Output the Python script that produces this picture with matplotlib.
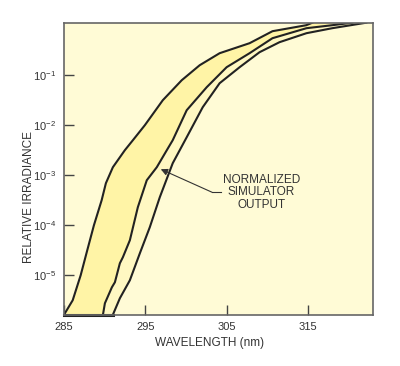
import numpy as np
import matplotlib
matplotlib.use("Agg")
import matplotlib.pyplot as plt

plt.rcParams["font.family"] = ["Liberation Sans", "DejaVu Sans"]
plt.rcParams["mathtext.fontset"] = "custom"
plt.rcParams["mathtext.rm"] = "Liberation Sans"
plt.rcParams["mathtext.it"] = "Liberation Sans"

# wavelength (nm) / log10 relative irradiance
left_wl = [285.0, 286.07, 287.05, 287.86, 288.68, 289.63, 290.15, 291.01, 292.48,
           293.47, 294.94, 297.15, 299.48, 301.69, 304.14, 307.82, 310.64, 314.8,
           315.55]
left_log = [-5.79, -5.5, -5.0, -4.5, -4.0, -3.5, -3.16, -2.84, -2.5,
            -2.3, -2.0, -1.5, -1.1, -0.8, -0.56, -0.36, -0.12, 0.0,
            0.05]

mid_wl = [289.79, 290.03, 290.89, 291.26, 291.87, 292.24, 293.10, 294.08, 295.18,
          296.41, 297.64, 298.37, 300.09, 302.55, 305.0, 307.82, 310.64, 314.82,
          318.0, 320.46]
mid_log = [-5.79, -5.56, -5.24, -5.14, -4.76, -4.64, -4.3, -3.64, -3.1,
           -2.84, -2.5, -2.3, -1.7, -1.24, -0.84, -0.56, -0.26, -0.06,
           0.0, 0.05]

right_wl = [291.01, 291.87, 293.10, 294.33, 295.55, 296.78, 298.37, 299.23, 300.09,
            302.06, 304.14, 306.6, 309.05, 311.5, 314.82, 318.0, 322.18]
right_log = [-5.79, -5.46, -5.1, -4.56, -4.04, -3.44, -2.76, -2.5, -2.24,
             -1.64, -1.16, -0.84, -0.54, -0.34, -0.16, -0.06, 0.05]

x_ticks = [285, 295, 305, 315]
y_ticks = [-5, -4, -3, -2, -1]

BG = "#fffbd6"
BAND_DARK = "#fff4a6"
BAND_LIGHT = "#fff8c2"
LINE = "#222222"

left_y = 10.0 ** np.array(left_log)
mid_y = 10.0 ** np.array(mid_log)
right_y = 10.0 ** np.array(right_log)

fig = plt.figure(figsize=(4.0, 3.66), dpi=100)
ax = fig.add_axes([0.16, 0.14, 0.7725, 0.798])
ax.set_facecolor(BG)
ax.set_yscale("log")
ax.set_xlim(285, 323)
ax.set_ylim(10 ** -5.79, 10 ** 0.05)

ax.fill(np.concatenate([left_wl, mid_wl[::-1]]),
        np.concatenate([left_y, mid_y[::-1]]), color=BAND_DARK, lw=0)
ax.fill(np.concatenate([mid_wl, right_wl[::-1]]),
        np.concatenate([mid_y, right_y[::-1]]), color=BAND_LIGHT, lw=0)
for wl, y in [(left_wl, left_y), (mid_wl, mid_y), (right_wl, right_y)]:
    ax.plot(wl, y, color=LINE, lw=1.5, solid_joinstyle="round")
ax.plot([left_wl[0], right_wl[0]], [left_y[0], right_y[0]], color=LINE, lw=2.2,
        clip_on=False)

ax.annotate("", xy=(296.9, 10 ** -2.88), xytext=(303.2, 10 ** -3.34),
            arrowprops=dict(arrowstyle="-|>", color="#333333", lw=0.8,
                            mutation_scale=10, shrinkA=0, shrinkB=0))
ax.plot([303.2, 304.3], [10 ** -3.34, 10 ** -3.34], color="#333333", lw=0.8)
ax.text(309.3, 10 ** -3.34, "NORMALIZED\nSIMULATOR\nOUTPUT", ha="center", va="center",
        fontsize=8.5, color="#333333", linespacing=1.05)

ax.set_xticks(x_ticks)
ax.set_xticklabels([str(t) for t in x_ticks])
ax.set_yticks([10.0 ** p for p in y_ticks])
ax.set_yticklabels([r"$10^{%d}$" % p for p in y_ticks])
ax.minorticks_off()
ax.tick_params(direction="in", length=7, width=1, color="#444444",
               labelsize=8, labelcolor="#333333")
ax.tick_params(axis="y", pad=6)
ax.tick_params(axis="x", pad=5)

for s in ax.spines.values():
    s.set_color("#666666")
    s.set_linewidth(1.2)

fig.text(0.072, 0.462, "RELATIVE IRRADIANCE", rotation=90, ha="center", va="center",
         fontsize=8.5, color="#333333")
fig.text(0.525, 0.064, "WAVELENGTH (nm)", ha="center", va="center",
         fontsize=8.5, color="#333333")

fig.savefig("out.png", dpi=100, facecolor="white")
